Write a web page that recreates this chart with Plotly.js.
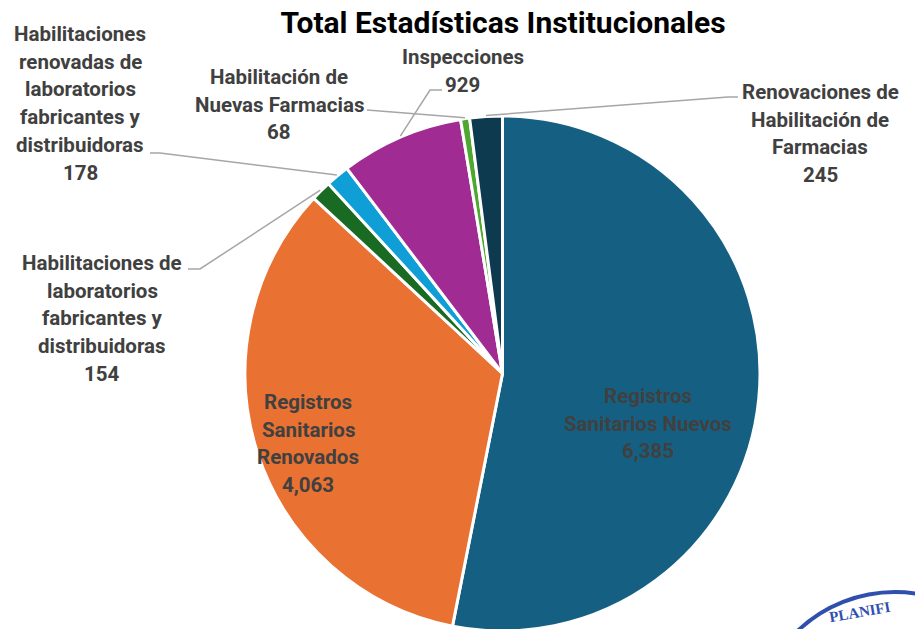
<!DOCTYPE html>
<html>
<head>
<meta charset="utf-8">
<script src="https://cdn.plot.ly/plotly-3.0.1.min.js"></script>
<style>
html,body{margin:0;padding:0;overflow:hidden;background:#fff;width:915px;height:629px;}
#chart{width:915px;height:660px;}
</style>
</head>
<body>
<div id="chart"></div>
<script>
// ---- data ----
const categories = [
  "Registros Sanitarios Nuevos",
  "Registros Sanitarios Renovados",
  "Habilitaciones de laboratorios fabricantes y distribuidoras",
  "Habilitaciones renovadas de laboratorios fabricantes y distribuidoras",
  "Inspecciones",
  "Habilitación de Nuevas Farmacias",
  "Renovaciones de Habilitación de Farmacias"
];
const values = [6385, 4063, 154, 178, 929, 68, 245];
const labelLines = [
  ["Registros", "Sanitarios Nuevos"],
  ["Registros", "Sanitarios", "Renovados"],
  ["Habilitaciones de", "laboratorios", "fabricantes y", "distribuidoras"],
  ["Habilitaciones", "renovadas de", "laboratorios", "fabricantes y", "distribuidoras"],
  ["Inspecciones"],
  ["Habilitación de", "Nuevas Farmacias"],
  ["Renovaciones de", "Habilitación de", "Farmacias"]
];
const chartTitle = "Total Estadísticas Institucionales";

// ---- styles / layout ----
const sliceColors = ["#156082", "#E97132", "#196B24", "#0F9ED5", "#A02B93", "#4EA72E", "#0E3A4F"];
const W = 915, H = 660;
const dom = {x: [245 / W, 760 / W], y: [1 - 631 / H, 1 - 116 / H]};
const textColor = "#404040";
const leaderColor = "#A6A6A6";
const labelFont = {family: "Roboto, 'Liberation Sans', sans-serif", size: 20.5, color: textColor, weight: 700};
const lineGap = 27.7;
// label placement: [centerX, firstLineY] in px; leader: pts from label toward slice
const labelPlace = [
  {x: 648, y: 396, inside: true},
  {x: 308, y: 402, inside: true},
  {x: 102, y: 263, leader: [[188, 269], [200, 269]]},
  {x: 80, y: 34, leader: [[150, 153], [160, 153]]},
  {x: 463, y: 57, leader: [[442, 90], [430, 90]]},
  {x: 279, y: 77, leader: [[367, 110]]},
  {x: 820, y: 92, leader: [[738, 97], [728, 97]]}
];

const px = v => v / W;
const py = v => 1 - v / H;

const pieCx = (dom.x[0] + dom.x[1]) / 2 * W;
const pieCy = (1 - (dom.y[0] + dom.y[1]) / 2) * H;
const pieR = Math.min((dom.x[1] - dom.x[0]) * W, (dom.y[1] - dom.y[0]) * H) / 2;
const total = values.reduce((a, b) => a + b, 0);

const annotations = [];
const shapes = [];
let cum = 0;
values.forEach((v, i) => {
  const mid = (cum + v / 2) / total * 2 * Math.PI;
  cum += v;
  const p = labelPlace[i];
  const lines = labelLines[i].concat([v.toLocaleString("en-US")]);
  lines.forEach((t, k) => {
    annotations.push({
      text: "<b>" + t + "</b>", showarrow: false,
      xref: "paper", yref: "paper",
      x: px(p.x), y: py(p.y + k * lineGap),
      xanchor: "center", yanchor: "middle",
      font: labelFont
    });
  });
  if (p.leader) {
    const ex = pieCx + (pieR + 1) * Math.sin(mid);
    const ey = pieCy - (pieR + 1) * Math.cos(mid);
    const pts = p.leader.concat([[ex, ey]]);
    const path = pts.map((q, k) => (k ? "L" : "M") + px(q[0]) + "," + py(q[1])).join(" ");
    shapes.push({type: "path", xref: "paper", yref: "paper", path: path,
      line: {color: leaderColor, width: 1.5}});
  }
});

// faint stamp in the corner
shapes.push({type: "circle", xref: "paper", yref: "paper",
  x0: px(754), x1: px(1036), y0: py(873), y1: py(592),
  line: {color: "#2f4fae", width: 4}});
annotations.push({text: "<b>PLANIFI</b>", showarrow: false, xref: "paper", yref: "paper",
  x: px(860), y: py(612), xanchor: "center", yanchor: "middle", textangle: -10,
  font: {family: "'Liberation Serif', serif", size: 15, color: "#2f4fae"}});

const trace = {
  type: "pie",
  labels: categories,
  values: values,
  sort: false,
  direction: "clockwise",
  rotation: 0,
  textinfo: "none",
  hoverinfo: "label+value",
  marker: {colors: sliceColors, line: {color: "#ffffff", width: 3}},
  domain: dom,
  showlegend: false
};

const layout = {
  width: W, height: H,
  margin: {l: 0, r: 0, t: 0, b: 0},
  paper_bgcolor: "#ffffff",
  title: {
    text: "<b>" + chartTitle + "</b>",
    x: 503 / W, xanchor: "center", xref: "paper",
    y: 1 - 22 / H, yanchor: "middle", yref: "container",
    font: {family: "Roboto, 'Liberation Sans', sans-serif", size: 30, color: "#000000"}
  },
  annotations: annotations,
  shapes: shapes,
  showlegend: false
};

Plotly.newPlot("chart", [trace], layout, {displayModeBar: false, staticPlot: true});
</script>
</body>
</html>
